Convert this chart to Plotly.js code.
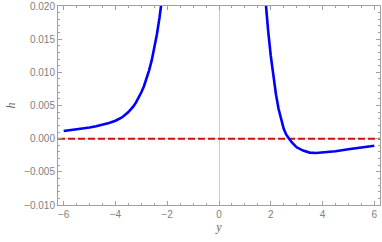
<!DOCTYPE html>
<html>
<head>
<meta charset="utf-8">
<script src="https://cdn.plot.ly/plotly-3.0.1.min.js"></script>
<style>html,body{margin:0;padding:0;background:#fff;}#chart{width:382px;height:242px;}</style>
</head>
<body>
<div id="chart"></div>
<script>
// Left branch of h(y)
var yLeft = [-6, -5.75, -5.5, -5.25, -5, -4.75, -4.5, -4.25, -4, -3.75, -3.5, -3.4, -3.3, -3.2, -3.1, -3.0, -2.9, -2.8, -2.7, -2.6, -2.5, -2.4, -2.3, -2.2];
var hLeft = [0.00115, 0.00126, 0.00138, 0.00152, 0.00168, 0.00187, 0.00209, 0.00236, 0.0027, 0.0032, 0.0040, 0.0044, 0.0049, 0.0055, 0.0062, 0.0070, 0.0079, 0.0090, 0.0103, 0.0118, 0.0136, 0.0157, 0.0182, 0.0212];
// Right branch of h(y)
var yRight = [1.75, 1.8, 1.9, 2.0, 2.1, 2.2, 2.3, 2.4, 2.5, 2.6, 2.7, 2.8, 2.9, 3.0, 3.25, 3.5, 3.75, 4.0, 4.5, 5.0, 5.5, 6.0];
var hRight = [0.0230, 0.0205, 0.0162, 0.0125, 0.0094, 0.0067, 0.0045, 0.0028, 0.0015, 0.0006, 0.0, -0.0005, -0.0009, -0.0013, -0.0018, -0.0021, -0.00215, -0.0021, -0.0019, -0.0016, -0.0013, -0.00108];
// Reference level
var yRef = [-6.22, 6.22];
var hRef = [0, 0];
var xTicks = [-6, -4, -2, 0, 2, 4, 6];
var hTicks = [-0.010, -0.005, 0.000, 0.005, 0.010, 0.015, 0.020];

var grey = '#808080';
var traces = [
  {x: yRef, y: hRef, mode: 'lines', line: {color: '#d01010', width: 2, dash: '7px,3px'}, hoverinfo: 'skip'},
  {x: yLeft, y: hLeft, mode: 'lines', line: {color: '#0000ff', width: 2.6}},
  {x: yRight, y: hRight, mode: 'lines', line: {color: '#0000ff', width: 2.6}}
];
var axisCommon = {
  showline: true, linecolor: '#a0a0a0', linewidth: 1, mirror: 'allticks',
  ticks: 'inside', ticklen: 4, tickcolor: '#a0a0a0', tickwidth: 1,
  showgrid: false,
  tickfont: {family: 'Liberation Sans, Arial, sans-serif', size: 10, color: grey}
};
var layout = {
  width: 382, height: 242,
  margin: {l: 58, r: 2, t: 6, b: 37},
  showlegend: false,
  paper_bgcolor: '#fff', plot_bgcolor: '#fff',
  xaxis: Object.assign({}, axisCommon, {
    range: [-6.22, 6.22], tickvals: xTicks, ticktext: xTicks.map(function(v){return v < 0 ? '\u2212' + Math.abs(v) : String(v);}),
    zeroline: true, zerolinecolor: '#cccccc', zerolinewidth: 1,
    minor: {dtick: 0.5, ticklen: 2, tickcolor: '#a0a0a0', ticks: 'inside'},
    title: {text: '<i>y</i>', font: {family: 'Liberation Serif, serif', size: 12, color: '#666'}, standoff: 2}
  }),
  yaxis: Object.assign({}, axisCommon, {
    range: [-0.010, 0.020], tickvals: hTicks, ticktext: hTicks.map(function(v){var s = Math.abs(v).toFixed(3); return v < 0 ? '\u2212' + s : s;}),
    zeroline: true, zerolinecolor: '#cccccc', zerolinewidth: 1,
    minor: {dtick: 0.001, ticklen: 2, tickcolor: '#a0a0a0', ticks: 'inside'},
    title: {text: '<i>h</i>', font: {family: 'Liberation Serif, serif', size: 12, color: '#666'}, standoff: 5}
  })
};
Plotly.newPlot('chart', traces, layout, {displayModeBar: false, staticPlot: true});
</script>
</body>
</html>
